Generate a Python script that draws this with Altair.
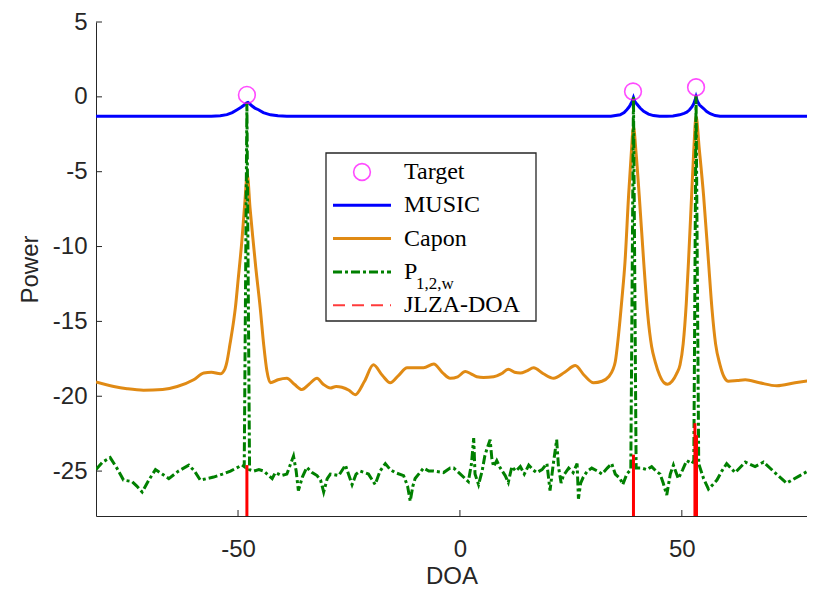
import altair as alt
import pandas as pd

# ---------------- data ----------------
target_doa = [-48.0, 39.0, 53.2]
target_power = [0.13, 0.36, 0.64]

music_doa = [-82, -70, -60, -56, -54, -52.5, -51.3, -50.2, -49.3, -48.6,
             -48.1, -47.75, -47.4, -46.9, -46.2, -45.4, -44.3, -42.7, -41, -39,
             -30, -20, -10, 0, 10, 20, 30, 34, 36.1, 37,
             37.6, 38.1, 38.4, 38.8, 39.1, 39.4, 39.9, 40.6, 41.4, 42.5,
             43.6, 45, 46.6, 48, 49.5, 50.5, 51.1, 51.7, 52.3, 52.7,
             53.0, 53.2, 53.5, 54.0, 54.9, 55.6, 56.4, 57.5, 58.6, 62,
             70, 80]
music_power = [-1.3, -1.3, -1.3, -1.29, -1.26, -1.19, -1.05, -0.86, -0.7, -0.55,
               -0.42, -0.37, -0.45, -0.6, -0.75, -0.86, -1.05, -1.2, -1.27, -1.3,
               -1.3, -1.3, -1.3, -1.3, -1.3, -1.3, -1.3, -1.3, -1.2, -1.05,
               -0.86, -0.68, -0.53, -0.3, -0.05, -0.3, -0.5, -0.75, -0.97, -1.15,
               -1.25, -1.3, -1.3, -1.28, -1.2, -1.1, -1.03, -0.88, -0.66, -0.45,
               -0.2, 0.0, -0.3, -0.55, -0.78, -0.98, -1.13, -1.25, -1.3, -1.3,
               -1.3, -1.3]

capon_doa = [-82, -78, -75, -71.3, -67, -63.7, -60, -57.7, -56, -54,
             -53, -52.5, -51.8, -51, -50.6, -50, -49.1, -48.5, -47.9, -47.3,
             -46.7, -46.0, -45.0, -44.2, -43.5, -42.7, -41, -39, -37.3, -35.6,
             -34, -32.2, -30.8, -29.2, -27.9, -26.6, -25, -23.6, -21.5, -19.5,
             -17.5, -15.7, -13.8, -11.9, -10, -8.2, -5.9, -4, -2.2, -0.5,
             1.2, 2.5, 3.8, 5.3, 7.6, 9.3, 10.9, 12.3, 13.6, 15.1,
             16.6, 18.8, 21.1, 23.6, 26.0, 28, 30.1, 32, 33.5, 34.5,
             35.0, 35.7, 36.5, 37.2, 38.0, 38.6, 39.1, 39.7, 40.4, 41.4,
             42.3, 43.2, 44.0, 45.0, 46.0, 46.8, 47.8, 48.8, 49.6, 50.3,
             51.0, 51.5, 52.2, 52.7, 53.2, 53.9, 54.9, 56.0, 56.8, 57.6,
             58.6, 59.5, 60.5, 62.5, 64.3, 67.5, 71.4, 75.5, 80]
capon_power = [-19.05, -19.35, -19.5, -19.6, -19.55, -19.35, -18.9, -18.45, -18.4, -18.5,
               -18.2, -17.7, -16.5, -15.0, -14.1, -12.3, -9.5, -7.2, -5.2, -7.4,
               -9.3, -11.4, -14.1, -16.6, -18.3, -19.1, -18.9, -18.8, -19.2, -19.55,
               -19.2, -18.8, -19.2, -19.45, -19.35, -19.4, -19.6, -19.9, -19.0, -17.9,
               -18.6, -19.1, -18.6, -18.1, -18.1, -18.1, -17.85, -18.4, -18.8, -18.7,
               -18.35, -18.5, -18.7, -18.75, -18.7, -18.5, -18.2, -18.4, -18.45, -18.3,
               -18.1, -18.5, -18.8, -18.4, -17.95, -18.6, -19.1, -19.0, -18.7, -18.2,
               -17.7, -16.0, -13.5, -11.0, -6.6, -3.8, -2.0, -3.8, -6.6, -11.0,
               -14.5, -16.7, -17.7, -18.6, -19.1, -19.2, -19.0, -18.5, -17.9, -16.5,
               -13.8, -11.0, -6.6, -3.5, -1.3, -3.4, -6.6, -11.0, -14.2, -16.5,
               -17.9, -18.7, -19.0, -18.95, -18.9, -19.1, -19.3, -19.1, -18.9]

p12w_doa = [-82, -80.5, -78.8, -77.3, -75.8, -73.9, -72.8, -71.6, -70.1, -68.6,
            -67.1, -65.6, -63.4, -61.1, -59.8, -58.5, -57, -55.5, -53.5, -51.7,
            -50.4, -49.1, -48.6, -48.0, -47.4, -46.5, -45.3, -44.2, -42.3, -41.6,
            -40.2, -39.0, -37.5, -36.9, -36.4, -35.5, -34.5, -33.3, -32.2, -31.4,
            -30.7, -29.9, -29.2, -27.3, -25.8, -25.0, -24.3, -23.4, -22.5, -20.6,
            -19.1, -18.0, -16.8, -15.7, -14.6, -12.7, -11.8, -11.2, -10.6, -10.1,
            -8.2, -7.0, -5.9, -3.7, -2.2, -1.4, 0.1, 1.9, 2.6, 3.1,
            3.4, 4.2, 5.0, 5.6, 6.1, 6.8, 7.2, 7.6, 8.3, 9.1,
            10.2, 10.9, 11.7, 12.6, 13.6, 14.5, 15.5, 16.4, 17.3, 18.5,
            19.6, 20.3, 21.0, 21.8, 22.2, 22.8, 23.3, 24.5, 25.5, 26.4,
            26.7, 27.2, 27.8, 28.7, 29.7, 31.0, 32.0, 33.2, 34.2, 35.0,
            36.1, 36.7, 37.6, 38.5, 39.1, 39.7, 41.0, 42.1, 43.2, 44.2,
            45.1, 45.8, 46.6, 47.4, 48.1, 48.7, 49.2, 50.2, 51.1, 52.3,
            52.7, 53.2, 53.8, 54.9, 56.0, 57.0, 57.9, 59.0, 60.1, 62.0,
            64.3, 66.5, 68.4, 70.6, 73.6, 76.6, 79.6]
p12w_power = [-24.9, -24.4, -24.1, -24.8, -25.6, -25.7, -26.0, -26.4, -25.6, -24.9,
              -25.2, -25.5, -25.0, -24.6, -25.0, -25.6, -25.5, -25.4, -25.2, -25.0,
              -24.8, -24.6, -24.7, -0.4, -24.9, -25.0, -24.9, -25.0, -25.5, -25.1,
              -25.3, -25.2, -24.0, -25.0, -26.3, -25.4, -24.75, -25.1, -25.3, -25.6,
              -26.4, -25.5, -25.2, -25.3, -24.6, -25.3, -25.9, -25.2, -25.0, -25.2,
              -25.9, -25.0, -24.5, -24.9, -25.1, -25.3, -26.0, -27.0, -26.0, -25.5,
              -24.8, -25.0, -25.0, -25.1, -24.8, -24.8, -25.2, -25.7, -24.5, -22.8,
              -25.2, -25.9, -25.0, -24.0, -23.5, -22.9, -24.2, -24.7, -24.3, -24.8,
              -25.3, -25.75, -24.7, -25.0, -24.7, -25.2, -24.6, -24.9, -25.1, -24.9,
              -24.5, -26.3, -24.6, -22.9, -24.7, -25.8, -25.3, -24.8, -25.1, -24.5,
              -26.85, -25.8, -25.4, -25.0, -24.8, -25.0, -25.2, -24.8, -24.5, -25.2,
              -25.5, -25.9, -25.2, -24.9, 0.0, -24.8, -24.8, -24.9, -24.7, -25.0,
              -25.2, -25.8, -26.6, -25.2, -24.6, -25.1, -25.5, -24.9, -24.3, -24.5,
              -24.3, 0.1, -24.5, -25.5, -26.2, -25.9, -25.6, -25.0, -24.5, -25.1,
              -24.4, -24.7, -24.4, -25.0, -25.8, -25.3, -24.8]

jlza_doa = [-48.0, 39.1, 52.95, 53.3]
jlza_power = [-24.6, -23.9, -21.8, -22.6]

x_ticks = [-50, 0, 50]
y_ticks = [-25, -20, -15, -10, -5, 0, 5]

legend_labels = ["Target", "MUSIC", "Capon", "P", "JLZA-DOA"]
legend_sub = "1,2,w"

# ---------------- styling ----------------
W, H = 711, 494
AX = "#262626"
BLUE = "#0000FF"
ORANGE = "#E08A14"
GREEN = "#008000"
RED = "#FF0000"
MAGENTA = "#FF00FF"
SANS = "Liberation Sans"
SERIF = "Liberation Serif"

HYPHEN = "datum.value < 0 ? '-' + abs(datum.value) : '' + datum.value"

xscale = alt.Scale(domain=[-82, 78.2], nice=False, zero=False)
yscale = alt.Scale(domain=[-28, 5], nice=False, zero=False)

xaxis = alt.Axis(values=x_ticks, ticks=False, tickSize=0, grid=False,
                 labelExpr=HYPHEN,
                 labelFont=SANS, labelFontSize=24, labelColor=AX, labelPadding=21,
                 domainColor=AX, domainWidth=1, title="DOA", titleFont=SANS,
                 titleFontSize=24, titleFontWeight="normal", titleColor=AX,
                 titlePadding=3)
yaxis = alt.Axis(values=y_ticks, ticks=False, tickSize=0, grid=False,
                 labelExpr=HYPHEN,
                 labelFont=SANS, labelFontSize=24, labelColor=AX, labelPadding=9,
                 domainColor=AX, domainWidth=1, title="Power", titleFont=SANS,
                 titleFontSize=24, titleFontWeight="normal", titleColor=AX,
                 titlePadding=10)


def X():
    return alt.X("doa:Q", scale=xscale, axis=xaxis)


def Y():
    return alt.Y("power:Q", scale=yscale, axis=yaxis)


def df(xv, yv):
    return pd.DataFrame({"doa": xv, "power": yv})


music = alt.Chart(df(music_doa, music_power)).mark_line(
    color=BLUE, strokeWidth=3, clip=True).encode(x=X(), y=Y())
capon = alt.Chart(df(capon_doa, capon_power)).mark_line(
    color=ORANGE, strokeWidth=3, clip=True, interpolate="monotone").encode(x=X(), y=Y())
p12w = alt.Chart(df(p12w_doa, p12w_power)).mark_line(
    color=GREEN, strokeWidth=3, strokeDash=[9, 3, 3, 3], clip=True).encode(x=X(), y=Y())
jlza = alt.Chart(df(jlza_doa, jlza_power)).mark_rule(
    color=RED, strokeWidth=3, clip=True).encode(x=X(), y=Y(), y2=alt.value(H))
targets = alt.Chart(df(target_doa, target_power)).mark_point(
    shape="circle", filled=False, color=MAGENTA, size=280, strokeWidth=1.6,
    clip=True).encode(x=X(), y=Y())

# inward ticks (MATLAB style)
xt = alt.Chart(pd.DataFrame({"doa": x_ticks})).mark_rule(
    color=AX, strokeWidth=1).encode(x=X(), y=alt.value(H), y2=alt.value(H - 6))
yt = alt.Chart(pd.DataFrame({"power": y_ticks})).mark_rule(
    color=AX, strokeWidth=1).encode(y=Y(), x=alt.value(0), x2=alt.value(6))

# ---------------- manual legend ----------------
one = pd.DataFrame({"k": [0]})
LB_X0, LB_X1, LB_Y0, LB_Y1 = 230, 440, 131, 299
SYM_X0, SYM_X1, TXT_X = 237, 295, 308
ROW0, ROWSTEP = 150, 33.3
rows = [ROW0 + i * ROWSTEP for i in range(len(legend_labels))]

legend_layers = [
    alt.Chart(one).mark_rect(fill="white", stroke=AX, strokeWidth=1.3).encode(
        x=alt.value(LB_X0), x2=alt.value(LB_X1), y=alt.value(LB_Y0), y2=alt.value(LB_Y1)),
    alt.Chart(one).mark_point(shape="circle", filled=False, color=MAGENTA,
                              size=280, strokeWidth=1.6).encode(
        x=alt.value((SYM_X0 + SYM_X1) / 2), y=alt.value(rows[0])),
]
styles = [
    None,
    dict(color=BLUE, strokeWidth=3),
    dict(color=ORANGE, strokeWidth=3),
    dict(color=GREEN, strokeWidth=3, strokeDash=[9, 3, 3, 3]),
    dict(color="#FF3B3B", strokeWidth=2, strokeDash=[12, 7]),
]
for i, st in enumerate(styles):
    if st is not None:
        legend_layers.append(alt.Chart(one).mark_rule(**st).encode(
            x=alt.value(SYM_X0), x2=alt.value(SYM_X1), y=alt.value(rows[i])))
for i, lab in enumerate(legend_labels):
    legend_layers.append(alt.Chart(one).mark_text(
        text=lab, align="left", baseline="middle", font=SERIF, fontSize=24,
        color="black").encode(x=alt.value(TXT_X), y=alt.value(rows[i])))
legend_layers.append(alt.Chart(one).mark_text(
    text=legend_sub, align="left", baseline="middle", font=SERIF, fontSize=17,
    color="black").encode(x=alt.value(TXT_X + 12), y=alt.value(rows[3] + 12)))

chart = alt.layer(music, capon, p12w, jlza, targets, xt, yt, *legend_layers).properties(
    width=W, height=H,
    autosize=alt.AutoSizeParams(type="none"),
    padding={"left": 88, "top": 14, "right": 0, "bottom": 72},
    background="white",
).configure_view(stroke=None)

chart.save("out.html", embed_options={"renderer": "svg", "actions": False})
